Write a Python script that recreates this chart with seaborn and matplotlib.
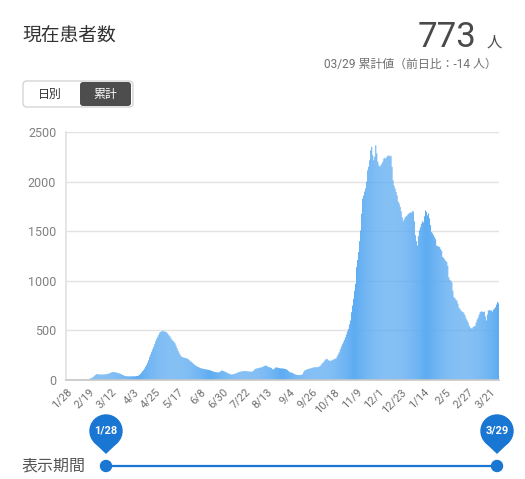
import numpy as np
import pandas as pd
import seaborn as sns
import matplotlib.pyplot as plt
from matplotlib.patches import FancyBboxPatch, Circle, Polygon

sns.set_theme(style='white')
plt.rcParams['font.family'] = ['Roboto', 'Noto Sans CJK JP', 'DejaVu Sans']

# data: current patients per day, 2020/1/28 - 2021/3/29
start_date = '2020-01-28'
end_date = '2021-03-29'
early = [1, 1, 1, 1, 1, 1, 1, 1, 1, 1, 1, 1, 1, 1, 1, 1, 1,
         2, 3, 3, 5, 7, 9, 12, 16, 20, 28, 35, 45, 52]
first_wave = [60, 58, 57, 55, 55, 54, 55, 55, 56, 58, 60, 62, 65, 70, 75, 78,
              80, 80, 78, 75, 72, 70, 66, 62, 58, 52, 47, 43, 40,
              38, 37, 36, 36, 37, 37, 38, 38, 37, 38, 40, 42]
spring_wave = [45, 52, 62, 75, 88, 100, 115, 135, 150, 175, 200, 233, 258, 285, 310,
               333, 360, 390, 415, 435, 455,
               478, 485, 490, 495, 490, 488,
               485, 478, 465, 450, 440, 420, 405, 395,
               383, 370, 345, 320, 295, 275, 255, 240,
               232, 228, 225, 222, 220, 215, 210, 200, 190,
               183, 175, 165, 155, 148, 140, 135, 130, 125, 120, 117,
               115, 112, 110, 108, 106, 104, 102, 100, 97, 93, 88, 85]
summer = [83, 80, 78, 77, 77, 80, 88, 95, 93, 90,
          85, 80, 75, 70, 65, 60, 57, 55, 57, 60, 62, 65, 70, 75, 80,
          83, 85, 87, 88, 90, 90, 90, 88, 86, 85, 85, 84, 83, 90, 100, 110, 115,
          117, 120, 122, 125, 127, 130, 135, 140, 147, 143, 138, 132, 127,
          127, 120, 110, 107, 115, 125, 127, 125, 122, 120, 118, 117, 117, 115, 113, 110, 107,
          100, 90, 80, 77, 75, 70, 65, 60, 55, 52, 50, 50, 50, 52, 52, 60, 80, 95]
autumn = [100, 105, 110, 112, 115, 118, 120, 125, 128, 128, 128, 130, 130, 133, 140,
          150, 165, 175, 185, 200, 210, 212, 200, 195, 193, 195, 200, 205, 210, 215]
third_rise = [218, 240, 260, 279, 310, 336, 360, 380, 405, 430, 460, 490, 515, 560, 600,
              683, 750, 818, 900, 970, 1137, 1210, 1290, 1400, 1508, 1677, 1828, 1860,
              1900, 1930, 2000, 2114, 2150, 2215, 2316]
third_peak = [2350, 2265, 2215, 2250, 2366, 2285, 2200, 2164, 2150, 2164, 2180, 2200,
              2232, 2240, 2230, 2250, 2260, 2265, 2250, 2260, 2150, 2013, 1960, 1930,
              1895, 1860, 1800, 1780, 1745, 1700, 1640, 1600, 1620, 1640, 1650, 1660,
              1675, 1680, 1690, 1685]
winter = [1700, 1700, 1600, 1460, 1400, 1355, 1450, 1510, 1540, 1575, 1600, 1590, 1650,
          1710, 1695, 1660, 1680, 1630, 1560, 1490, 1480, 1460, 1440, 1420, 1355, 1350,
          1345, 1340, 1320, 1300, 1240, 1230, 1215, 1200, 1190, 1150, 1035, 1010, 1000, 985]
late = [900, 835, 825, 810, 800, 770, 730, 715, 700, 690, 685, 670, 650, 620, 600, 580,
        550, 530, 520, 520, 535, 540, 547, 580, 610, 630, 660, 685, 690, 690, 685, 690,
        640, 600, 660, 700, 705, 700, 700, 690, 710, 720, 733, 760, 787, 773]

dates = pd.date_range(start_date, end_date, freq='D')
values = early + first_wave + spring_wave + summer + autumn + third_rise + third_peak + winter + late
df = pd.DataFrame({'day': np.arange(len(dates)), 'patients': values})
labels = [f'{d.month}/{d.day}' for d in dates]

W, H = 525, 479
fig = plt.figure(figsize=(W / 100, H / 100), dpi=100)
ax = fig.add_axes([66 / W, 1 - 380 / H, 433 / W, 248 / H])

sns.barplot(data=df, x='day', y='patients', color='#5eacf2', saturation=1,
            width=1.0, errorbar=None, linewidth=0, ax=ax)
for p in ax.patches:
    p.set_snap(False)

ax.set_ylim(0, 2500)
ax.set_yticks(range(0, 2501, 500))
ax.set_xlim(-0.5, len(dates) - 0.5)
tick_pos = list(range(0, len(dates), 22))
ax.set_xticks(tick_pos)
ax.set_xticklabels([labels[i] for i in tick_pos], rotation=45, ha='right',
                   rotation_mode='anchor', fontsize=8, color='#707070')
ax.tick_params(axis='y', labelsize=9, colors='#808080', length=0, pad=7)
ax.tick_params(axis='x', length=0, pad=5)
ax.set_xlabel('')
ax.set_ylabel('')
ax.yaxis.grid(True, color='#e2e2e2', linewidth=1)
ax.set_axisbelow(True)
for side in ['top', 'right']:
    ax.spines[side].set_visible(False)
ax.spines['left'].set_color('#e2e2e2')
ax.spines['bottom'].set_color('#c8c8c8')

# header and controls, drawn in a pixel overlay
ov = fig.add_axes([0, 0, 1, 1], zorder=-1)
ov.set_xlim(0, W)
ov.set_ylim(H, 0)
ov.axis('off')

ov.text(22, 36, '現在患者数', fontsize=13.5, color='#333333', va='center', ha='left')
ov.text(476, 37, '773', fontsize=25, color='#4a4a4a', va='center', ha='right')
ov.text(487, 43, '人', fontsize=11, color='#4a4a4a', va='center', ha='left')
ov.text(497, 64, '03/29 累計値（前日比：-14 人）', fontsize=8.6, color='#707070',
        va='center', ha='right')

ov.add_patch(FancyBboxPatch((23, 81), 110, 26, boxstyle='round,pad=0,rounding_size=4',
                            facecolor='white', edgecolor='#d4d4d4', linewidth=1))
ov.add_patch(FancyBboxPatch((80, 82), 51, 24, boxstyle='round,pad=0,rounding_size=3',
                            facecolor='#4d4d4d', edgecolor='none'))
ov.text(50, 94, '日別', fontsize=8.6, color='#333333', va='center', ha='center')
ov.text(105, 94, '累計', fontsize=8.6, color='white', va='center', ha='center')

# period slider
blue = '#1976d2'
ov.text(22, 466, '表示期間', fontsize=11.5, color='#555555', va='center', ha='left')
ov.plot([106, 497], [466, 466], color=blue, linewidth=1.6, solid_capstyle='butt')
for px, lab in [(106, labels[0]), (497, labels[-1])]:
    ov.add_patch(Circle((px, 466), 5.5, color=blue))
    ov.add_patch(Circle((px, 431), 16, color=blue))
    ov.add_patch(Polygon([(px - 11.5, 442), (px + 11.5, 442), (px, 453)], closed=True,
                         color=blue))
    ov.text(px, 431, lab, fontsize=8, color='white', fontweight='bold',
            va='center', ha='center')

fig.savefig('out.png', dpi=100)
